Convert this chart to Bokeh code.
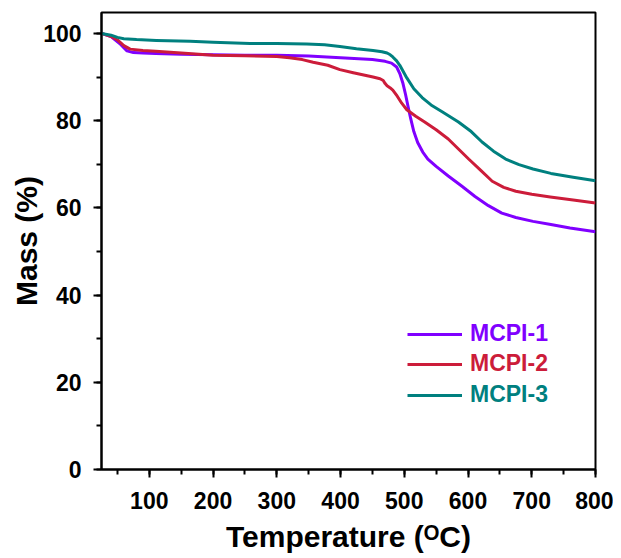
from bokeh.plotting import figure
from bokeh.models import Range1d, SingleIntervalTicker, Legend, LegendItem
from bokeh.embed import file_html
from bokeh.resources import INLINE

# ---- data ----
t1 = [25, 40, 55, 65, 75, 90, 110, 150, 200, 250, 300, 350, 400, 450, 470, 480, 488, 493,
      498, 502, 506, 510, 515, 521, 529, 537, 550, 569, 590, 611, 632, 653, 675, 702, 730, 760, 800]
m1 = [100, 99.3, 97.5, 96.0, 95.6, 95.5, 95.4, 95.2, 95.1, 95.0, 95.0, 94.8, 94.4, 94.0, 93.6,
      93.2, 92.3, 90.8, 88.5, 86.0, 83.2, 80.5, 77.5, 75.0, 72.8, 71.2, 69.5, 67.3, 65.0, 62.6,
      60.5, 58.8, 57.8, 56.9, 56.2, 55.4, 54.5]

t2 = [25, 40, 50, 60, 70, 90, 110, 150, 200, 250, 300, 320, 340, 357, 380, 399, 420, 451, 462,
      467, 470, 473, 478, 482, 489, 496, 504, 518, 532, 550, 569, 585, 601, 620, 638, 656, 675,
      700, 729, 765, 800]
m2 = [100, 99.3, 98.5, 97.2, 96.4, 96.1, 95.9, 95.5, 95.0, 94.9, 94.7, 94.4, 94.0, 93.4, 92.7,
      91.7, 91.0, 90.0, 89.6, 89.2, 88.5, 88.0, 87.5, 87.0, 85.6, 84.0, 82.5, 81.0, 79.7, 77.9,
      75.8, 73.5, 71.2, 68.6, 66.1, 64.7, 63.8, 63.1, 62.5, 61.8, 61.1]

t3 = [25, 40, 50, 60, 80, 111, 164, 200, 258, 300, 347, 375, 399, 425, 451, 465, 473, 478, 482,
      488, 493, 504, 515, 528, 542, 560, 585, 605, 622, 640, 659, 680, 702, 730, 765, 800]
m3 = [100, 99.6, 99.1, 98.8, 98.6, 98.4, 98.2, 98.0, 97.7, 97.7, 97.6, 97.4, 97.0, 96.5, 96.1,
      95.8, 95.5, 95.1, 94.6, 93.7, 92.7, 89.8, 87.3, 85.3, 83.6, 82.0, 79.7, 77.5, 75.1, 73.0,
      71.2, 69.9, 68.9, 67.9, 67.0, 66.2]

names = ["MCPI-1", "MCPI-2", "MCPI-3"]
colors = ["#8000FF", "#CC1C3A", "#00807F"]

FONT = "Liberation Sans"

p = figure(width=613, height=556, output_backend="svg", toolbar_location=None,
           x_range=Range1d(25, 800), y_range=Range1d(0, 104.8),
           min_border_left=101, min_border_right=18, min_border_top=12, min_border_bottom=87)

p.xgrid.visible = False
p.ygrid.visible = False
p.outline_line_color = "black"
p.outline_line_width = 2
p.outline_line_alpha = 1

p.xaxis.ticker = SingleIntervalTicker(interval=100, num_minor_ticks=2)
p.yaxis.ticker = SingleIntervalTicker(interval=20, num_minor_ticks=2)

for ax in (p.xaxis, p.yaxis):
    ax.axis_line_width = 2
    ax.axis_line_color = "black"
    ax.major_tick_line_width = 2
    ax.minor_tick_line_width = 2
    ax.major_tick_line_color = "black"
    ax.minor_tick_line_color = "black"
    ax.major_tick_out = 8
    ax.major_tick_in = 0
    ax.minor_tick_out = 5
    ax.minor_tick_in = 0
    ax.major_label_text_font = FONT
    ax.major_label_text_font_style = "bold"
    ax.major_label_text_font_size = "23px"
    ax.major_label_text_color = "black"
    ax.axis_label_text_font = FONT
    ax.axis_label_text_font_style = "bold"
    ax.axis_label_text_font_size = "30px"
    ax.axis_label_text_color = "black"

p.xaxis.axis_label = "Temperature (\u1D3CC)"
p.yaxis.axis_label = "Mass (%)"
p.xaxis.major_label_standoff = 14
p.yaxis.major_label_standoff = 12
p.xaxis.axis_label_standoff = 8
p.yaxis.axis_label_standoff = -3

renderers = []
for t, m, c in zip([t1, t2, t3], [m1, m2, m3], colors):
    r = p.line(t, m, line_color=c, line_width=3, line_join="round")
    renderers.append(r)

# one legend per series so each label can carry its own colour
legend_y = [122, 92, 61]
for r, n, c, ly in zip(renderers, names, colors, legend_y):
    lg = Legend(items=[LegendItem(label=n, renderers=[r])],
                location=(306, ly),
                padding=0, margin=0, spacing=0,
                glyph_width=55, glyph_height=20, label_height=20,
                label_standoff=8,
                border_line_color=None, background_fill_alpha=0,
                label_text_font=FONT, label_text_font_style="bold",
                label_text_font_size="23px", label_text_color=c)
    p.add_layout(lg, "center")

open("out.html", "w").write(file_html(p, INLINE))
